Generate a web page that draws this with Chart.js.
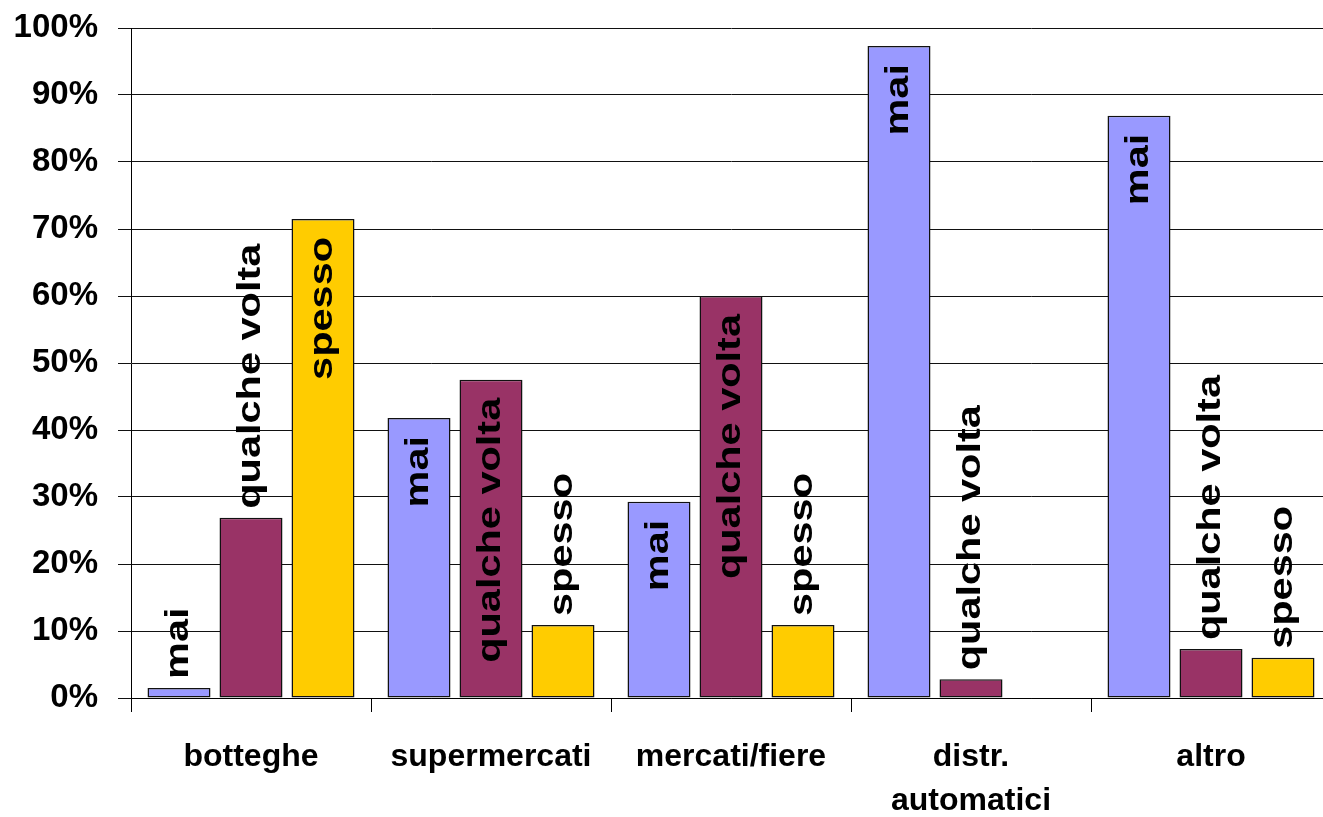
<!DOCTYPE html>
<html>
<head>
<meta charset="utf-8">
<script src="https://cdn.jsdelivr.net/npm/chart.js@4/dist/chart.umd.min.js"></script>
<style>
  html, body { margin: 0; padding: 0; background: #fff; overflow: hidden; }
  #wrap { width: 1323px; height: 817px; overflow: hidden; }
</style>
</head>
<body>
<div id="wrap"><canvas id="chart" width="1331" height="817"></canvas></div>
<script>
// categorie e serie
const categories = ['botteghe', 'supermercati', 'mercati/fiere', ['distr.', 'automatici'], 'altro']
const seriesNames = ['mai', 'qualche volta', 'spesso']
const mai = [1.5, 41.8, 29.3, 97.3, 86.9]
const qualcheVolta = [26.9, 47.5, 60.0, 2.8, 7.3]
const spesso = [71.5, 10.9, 10.9, 0, 6.0]
const yTicks = [0, 10, 20, 30, 40, 50, 60, 70, 80, 90, 100]

const colors = ['#9999FF', '#993366', '#FFCC00']
const FONT = "'Liberation Sans', Arial, sans-serif"

Chart.defaults.font.family = FONT
Chart.defaults.color = '#000'

// etichette verticali sulle barre (dentro se c'è posto, altrimenti sopra)
const barLabels = {
    id: 'barLabels',
    afterDatasetsDraw(chart) {
        const ctx = chart.ctx
        const stretch = 1.22
        ctx.save()
        ctx.font = 'bold 34px ' + FONT
        ctx.fillStyle = '#000'
        ctx.textBaseline = 'middle'
        chart.data.datasets.forEach((ds, i) => {
            const meta = chart.getDatasetMeta(i)
            meta.data.forEach((bar, j) => {
                if (!ds.data[j]) return
                const { x, y, base } = bar.getProps(['x', 'y', 'base'], true)
                const h = base - y
                const w = ctx.measureText(ds.label).width * stretch
                ctx.save()
                if (w + 30 <= h) {
                    ctx.translate(x, y + 18)
                    ctx.rotate(-Math.PI / 2)
                    ctx.scale(stretch, 1)
                    ctx.textAlign = 'right'
                } else {
                    ctx.translate(x, y - 9)
                    ctx.rotate(-Math.PI / 2)
                    ctx.scale(stretch, 1)
                    ctx.textAlign = 'left'
                }
                ctx.fillText(ds.label, 0, 0)
                ctx.restore()
            })
        })
        ctx.restore()
    }
}

new Chart(document.getElementById('chart').getContext('2d'), {
    type: 'bar',
    data: {
        labels: categories,
        datasets: [mai, qualcheVolta, spesso].map((d, i) => ({
            label: seriesNames[i],
            data: d,
            backgroundColor: colors[i],
            borderColor: '#111',
            borderWidth: 1.5,
            borderSkipped: false,
            categoryPercentage: 0.9,
            barPercentage: 0.875
        }))
    },
    options: {
        responsive: false,
        animation: false,
        devicePixelRatio: 1,
        layout: { padding: { top: 28, right: 0, left: 0, bottom: 0 } },
        plugins: {
            legend: { display: false },
            tooltip: { enabled: false }
        },
        scales: {
            x: {
                grid: {
                    drawOnChartArea: false,
                    tickLength: 14,
                    color: '#000',
                    offset: true
                },
                border: { color: '#000', width: 1 },
                ticks: {
                    font: { size: 32, weight: 'bold', lineHeight: 1.35 },
                    color: '#000',
                    padding: 24,
                    maxRotation: 0,
                    autoSkip: false
                },
                afterFit: scale => {
                    scale.height = 119
                    scale.paddingLeft = 0
                    scale.paddingRight = 0
                }
            },
            y: {
                min: 0,
                max: 100,
                afterBuildTicks: scale => { scale.ticks = yTicks.map(v => ({ value: v })) },
                grid: { color: '#111', tickLength: 13 },
                border: { color: '#000', width: 1 },
                ticks: {
                    font: { size: 33, weight: 'bold' },
                    color: '#000',
                    padding: 20,
                    callback: v => v + '%'
                },
                afterFit: scale => {
                    scale.width = 131
                    scale.paddingTop = 0
                    scale.paddingBottom = 0
                }
            }
        }
    },
    plugins: [barLabels]
})
</script>
</body>
</html>
